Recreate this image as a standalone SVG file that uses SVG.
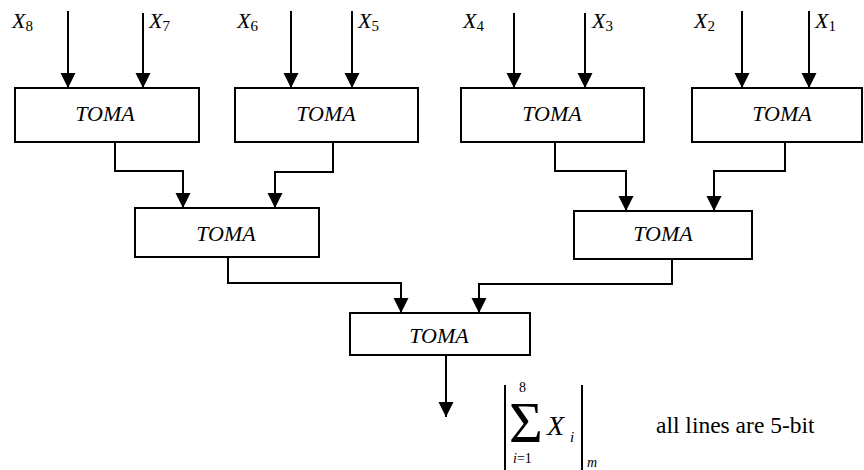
<svg xmlns="http://www.w3.org/2000/svg" width="864" height="470" viewBox="0 0 864 470">
<defs>
<marker id="ah" markerUnits="userSpaceOnUse" markerWidth="15" markerHeight="16" refX="15" refY="7.5" orient="auto">
<path d="M0,0 L15,7.5 L0,15 z" fill="#000"/>
</marker>
</defs>
<style>
.box{fill:#fff;stroke:#000;stroke-width:2}
.ln{fill:none;stroke:#000;stroke-width:2}
.ar{fill:none;stroke:#000;stroke-width:2;marker-end:url(#ah)}
.t{font-style:italic;font-size:22px}
.tc{text-anchor:middle}
.sub{font-size:15px;font-style:normal}
</style>
<rect width="864" height="470" fill="#fff"/>
<g id="connectors">
<line class="ar" x1="68" y1="11" x2="68" y2="88"/>
<line class="ar" x1="143" y1="13" x2="143" y2="88"/>
<line class="ar" x1="291" y1="11" x2="291" y2="88"/>
<line class="ar" x1="352" y1="11" x2="352" y2="88"/>
<line class="ar" x1="514" y1="13" x2="514" y2="88"/>
<line class="ar" x1="585" y1="13" x2="585" y2="88"/>
<line class="ar" x1="742" y1="11" x2="742" y2="88"/>
<line class="ar" x1="809" y1="11" x2="809" y2="88"/>
<polyline class="ar" points="115,142 115,171 183,171 183,208"/>
<polyline class="ar" points="333,142 333,172 275,172 275,208"/>
<polyline class="ar" points="555,142 555,171 626,171 626,211"/>
<polyline class="ar" points="785,142 785,171 714,171 714,211"/>
<polyline class="ar" points="228,257 228,283 401,283 401,313"/>
<polyline class="ar" points="672,259 672,284 479,284 479,313"/>
<line class="ar" x1="446" y1="355" x2="446" y2="417"/>
</g>
<g font-family="'Liberation Serif', 'Noto Serif', 'DejaVu Serif', serif" fill="#000">
<g id="labels">
<text class="t" x="12" y="28">X<tspan class="sub" dy="3">8</tspan></text>
<text class="t" x="149" y="28">X<tspan class="sub" dy="3">7</tspan></text>
<text class="t" x="237" y="28">X<tspan class="sub" dy="3">6</tspan></text>
<text class="t" x="358" y="28">X<tspan class="sub" dy="3">5</tspan></text>
<text class="t" x="463" y="28">X<tspan class="sub" dy="3">4</tspan></text>
<text class="t" x="592" y="28">X<tspan class="sub" dy="3">3</tspan></text>
<text class="t" x="694" y="28">X<tspan class="sub" dy="3">2</tspan></text>
<text class="t" x="815" y="28">X<tspan class="sub" dy="3">1</tspan></text>
</g>
<g id="toma1"><rect class="box" x="15" y="88" width="184" height="54"/><text class="t tc" x="105" y="121">TOMA</text></g>
<g id="toma2"><rect class="box" x="235" y="88" width="183" height="54"/><text class="t tc" x="326" y="121">TOMA</text></g>
<g id="toma3"><rect class="box" x="461" y="88" width="183" height="54"/><text class="t tc" x="552" y="121">TOMA</text></g>
<g id="toma4"><rect class="box" x="692" y="88" width="170" height="54"/><text class="t tc" x="782" y="121">TOMA</text></g>
<g id="toma5"><rect class="box" x="135" y="208" width="184" height="49"/><text class="t tc" x="226" y="241">TOMA</text></g>
<g id="toma6"><rect class="box" x="574" y="211" width="178" height="48"/><text class="t tc" x="663" y="241">TOMA</text></g>
<g id="toma7"><rect class="box" x="350" y="313" width="180" height="42"/><text class="t tc" x="439" y="343">TOMA</text></g>
<g id="formula">
<line class="ln" x1="505" y1="385" x2="505" y2="470"/>
<line class="ln" x1="582" y1="385" x2="582" y2="470"/>
<text x="519" y="392" font-size="14">8</text>
<text x="509" y="442" font-size="58">Σ</text>
<text class="t" x="547" y="435" style="font-size:28px">X</text>
<text class="t" x="570" y="442" style="font-size:15px">i</text>
<text x="513" y="463" font-size="14"><tspan font-style="italic">i</tspan>=1</text>
<text class="t" x="587" y="467" style="font-size:14px">m</text>
</g>
<text x="656" y="433" font-size="23.5">all lines are 5-bit</text>
</g>
</svg>
